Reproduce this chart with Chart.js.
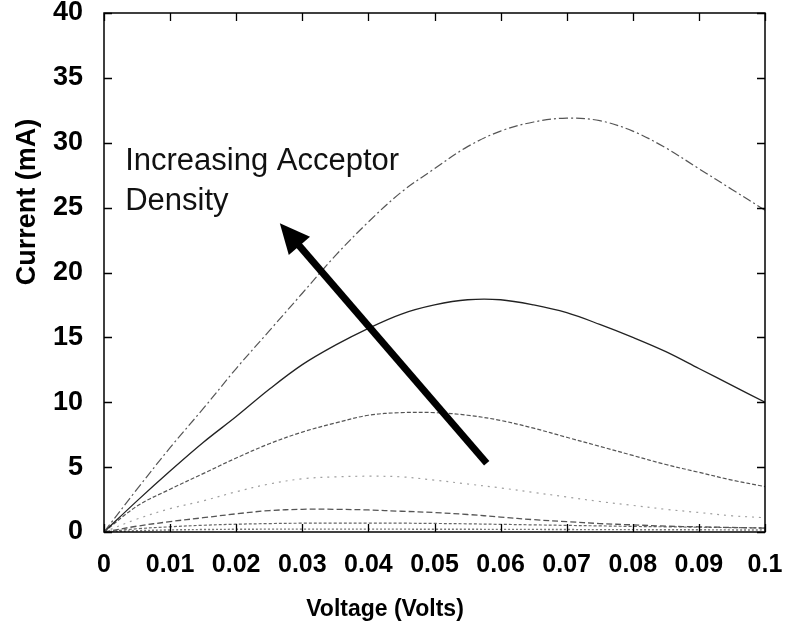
<!DOCTYPE html>
<html>
<head>
<meta charset="utf-8">
<script src="https://cdn.jsdelivr.net/npm/chart.js@4"></script>
<style>
  html, body { margin: 0; padding: 0; background: #fff; }
</style>
</head>
<body>
<canvas id="ivChart" width="789" height="626"></canvas>
<script>
// Voltage samples (Volts)
const voltage = [0, 0.005, 0.01, 0.015, 0.02, 0.025, 0.03, 0.035, 0.04, 0.045, 0.05,
                 0.055, 0.06, 0.065, 0.07, 0.075, 0.08, 0.085, 0.09, 0.095, 0.1];

// Current (mA), one curve per acceptor density, highest first
const curveA = [0, 3.3, 6.5, 9.5, 12.6, 15.5, 18.4, 21.3, 23.9, 26.2, 28.0,
                29.7, 30.9, 31.6, 31.9, 31.7, 30.9, 29.6, 28.0, 26.4, 24.8];
const curveB = [0, 2.4, 4.7, 6.9, 8.9, 11.0, 12.9, 14.4, 15.7, 16.8, 17.5,
                17.9, 17.9, 17.5, 16.9, 16.0, 15.0, 13.9, 12.6, 11.3, 10.0];
const curveC = [0, 2.0, 3.3, 4.5, 5.7, 6.8, 7.7, 8.4, 9.0, 9.2, 9.2,
                9.0, 8.6, 8.0, 7.3, 6.6, 5.9, 5.2, 4.6, 4.0, 3.5];
const curveD = [0, 1.0, 1.8, 2.4, 3.1, 3.7, 4.1, 4.25, 4.3, 4.25, 4.0,
                3.7, 3.4, 3.05, 2.7, 2.35, 2.05, 1.75, 1.5, 1.25, 1.1];
const curveE = [0, 0.45, 0.8, 1.1, 1.4, 1.65, 1.75, 1.75, 1.7, 1.6, 1.5,
                1.35, 1.15, 0.95, 0.8, 0.65, 0.55, 0.45, 0.4, 0.35, 0.3];
const curveF = [0, 0.25, 0.4, 0.52, 0.6, 0.65, 0.68, 0.69, 0.69, 0.68, 0.66,
                0.63, 0.59, 0.55, 0.51, 0.47, 0.43, 0.4, 0.37, 0.34, 0.32];
const curveG = [0, 0.1, 0.16, 0.19, 0.21, 0.22, 0.22, 0.22, 0.22, 0.22, 0.21,
                0.21, 0.2, 0.2, 0.19, 0.18, 0.18, 0.17, 0.17, 0.16, 0.16];

// Tick labels
const xTicks = [0, 0.01, 0.02, 0.03, 0.04, 0.05, 0.06, 0.07, 0.08, 0.09, 0.1];
const yTicks = [0, 5, 10, 15, 20, 25, 30, 35, 40];

// Annotation: arrow (voltage, current) and label
const arrowTail = [0.0579, 5.3];
const arrowTip = [0.0266, 23.8];
const noteLines = ['Increasing Acceptor', 'Density'];
const noteAt = [0.0032, 27.9];

const fontFamily = '"Liberation Sans", Arial, Helvetica, sans-serif';

function toPoints(ys) {
    return voltage.map((v, i) => ({ x: v, y: ys[i] }));
}

function line(ys, color, width, dash) {
    return {
        data: toPoints(ys),
        borderColor: color,
        borderWidth: width,
        borderDash: dash,
        pointRadius: 0,
        tension: 0.35,
        fill: false
    };
}

// frame, inward ticks, arrow, note and axis titles
const decorations = {
    id: 'decorations',
    afterDraw(chart) {
        const { ctx, chartArea: a, scales } = chart;
        const xs = scales.x, ys = scales.y;
        ctx.save();

        ctx.strokeStyle = '#000';
        ctx.lineWidth = 1.5;
        ctx.strokeRect(a.left, a.top, a.right - a.left, a.bottom - a.top);

        ctx.lineWidth = 1.3;
        ctx.beginPath();
        xTicks.forEach(v => {
            const px = Math.round(xs.getPixelForValue(v)) + 0.5;
            ctx.moveTo(px, a.bottom); ctx.lineTo(px, a.bottom - 8);
            ctx.moveTo(px, a.top); ctx.lineTo(px, a.top + 8);
        });
        yTicks.forEach(v => {
            const py = Math.round(ys.getPixelForValue(v)) + 0.5;
            ctx.moveTo(a.left, py); ctx.lineTo(a.left + 8, py);
            ctx.moveTo(a.right, py); ctx.lineTo(a.right - 8, py);
        });
        ctx.stroke();

        // arrow
        const x0 = xs.getPixelForValue(arrowTail[0]), y0 = ys.getPixelForValue(arrowTail[1]);
        const x1 = xs.getPixelForValue(arrowTip[0]), y1 = ys.getPixelForValue(arrowTip[1]);
        const ang = Math.atan2(y1 - y0, x1 - x0);
        const headLen = 30, headHalf = 14;
        const bx = x1 - headLen * Math.cos(ang), by = y1 - headLen * Math.sin(ang);
        ctx.strokeStyle = '#000';
        ctx.lineWidth = 7;
        ctx.lineCap = 'butt';
        ctx.beginPath();
        ctx.moveTo(x0, y0);
        ctx.lineTo(bx + 4 * Math.cos(ang), by + 4 * Math.sin(ang));
        ctx.stroke();
        ctx.fillStyle = '#000';
        ctx.beginPath();
        ctx.moveTo(x1, y1);
        ctx.lineTo(bx + headHalf * Math.sin(ang), by - headHalf * Math.cos(ang));
        ctx.lineTo(bx - headHalf * Math.sin(ang), by + headHalf * Math.cos(ang));
        ctx.closePath();
        ctx.fill();

        // note text
        ctx.fillStyle = '#111';
        ctx.font = '31px ' + fontFamily;
        ctx.textAlign = 'left';
        ctx.textBaseline = 'alphabetic';
        const nx = xs.getPixelForValue(noteAt[0]), ny = ys.getPixelForValue(noteAt[1]);
        noteLines.forEach((t, i) => ctx.fillText(t, nx, ny + i * 40));

        // axis titles
        ctx.fillStyle = '#000';
        ctx.font = 'bold 23px ' + fontFamily;
        ctx.textAlign = 'center';
        ctx.textBaseline = 'middle';
        ctx.fillText('Voltage (Volts)', 385, 610);
        ctx.translate(28, 202);
        ctx.rotate(-Math.PI / 2);
        ctx.font = 'bold 27px ' + fontFamily;
        ctx.fillText('Current (mA)', 0, 0);

        ctx.restore();
    }
};

function noEdgePadding(s) {
    s.paddingTop = 0; s.paddingBottom = 0;
    s.paddingLeft = 0; s.paddingRight = 0;
}

const ctx = document.getElementById('ivChart').getContext('2d');
const ivChart = new Chart(ctx, {
    type: 'line',
    data: {
        datasets: [
            line(curveA, '#555', 1.2, [9, 3, 2, 3]),
            line(curveB, '#222', 1.3, []),
            line(curveC, '#555', 1.2, [4, 2]),
            line(curveD, '#a0a0a0', 1.2, [2, 5]),
            line(curveE, '#555', 1.3, [6, 3]),
            line(curveF, '#666', 1.2, [3, 2]),
            line(curveG, '#777', 1.4, [2, 2])
        ]
    },
    options: {
        responsive: false,
        animation: false,
        layout: { padding: { left: 0, right: 24, top: 13, bottom: 0 } },
        plugins: {
            legend: { display: false },
            tooltip: { enabled: false }
        },
        scales: {
            x: {
                type: 'linear',
                min: 0,
                max: 0.1,
                afterBuildTicks: s => { s.ticks = xTicks.map(v => ({ value: v })); },
                afterFit: s => { s.height = 94; noEdgePadding(s); },
                grid: { display: false },
                border: { display: false },
                ticks: {
                    padding: 10,
                    color: '#000',
                    font: { family: fontFamily, size: 25, weight: 'bold' },
                    maxRotation: 0,
                    callback: v => String(+v.toFixed(2))
                }
            },
            y: {
                type: 'linear',
                min: 0,
                max: 40,
                afterBuildTicks: s => { s.ticks = yTicks.map(v => ({ value: v })); },
                afterFit: s => { s.width = 104; noEdgePadding(s); },
                grid: { display: false },
                border: { display: false },
                ticks: {
                    padding: 13,
                    color: '#000',
                    font: { family: fontFamily, size: 27, weight: 'bold' }
                }
            }
        }
    },
    plugins: [decorations]
});
</script>
</body>
</html>
